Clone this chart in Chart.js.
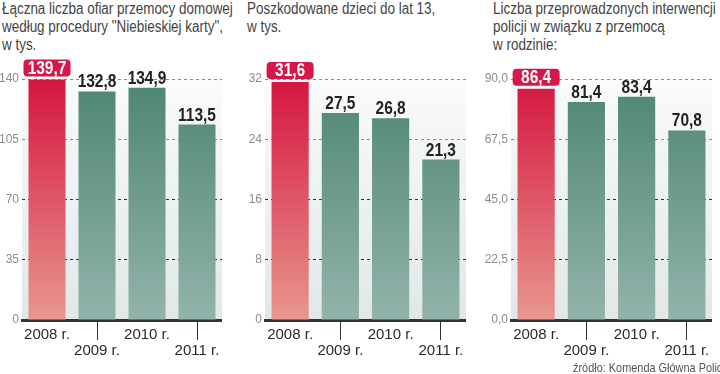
<!DOCTYPE html>
<html>
<head>
<meta charset="utf-8">
<script src="https://cdn.jsdelivr.net/npm/chart.js@4.4.1/dist/chart.umd.min.js"></script>
<style>
  body { margin: 0; width: 720px; height: 374px; overflow: hidden; background: #fff; position: relative; }
  canvas { position: absolute; top: 0; }
  .title { position: absolute; top: 0; font: 16px/18px "Liberation Sans", Arial, sans-serif; color: #444; white-space: nowrap; transform: scaleX(0.84); transform-origin: 0 0; }
  .source { position: absolute; left: 573px; top: 360px; font: 13px "Liberation Sans", Arial, sans-serif; color: #555; white-space: nowrap; transform: scaleX(0.84); transform-origin: 0 0; }
</style>
</head>
<body>
<div class="title" style="left:2px">Łączna liczba ofiar przemocy domowej<br>według procedury "Niebieskiej karty",<br>w tys.</div>
<div class="title" style="left:247px">Poszkodowane dzieci do lat 13,<br>w tys.</div>
<div class="title" style="left:493px">Liczba przeprowadzonych interwencji<br>policji w związku z przemocą<br>w rodzinie:</div>
<canvas id="c1" width="222" height="374" style="left:0px"></canvas>
<canvas id="c2" width="226" height="374" style="left:240px"></canvas>
<canvas id="c3" width="232" height="374" style="left:480px"></canvas>
<div class="source">źródło: Komenda Główna Policji</div>
<script>
const categories = ['2008 r.', '2009 r.', '2010 r.', '2011 r.'];
const victims = [139.7, 132.8, 134.9, 113.5];
const children = [31.6, 27.5, 26.8, 21.3];
const interventions = [86.4, 81.4, 83.4, 70.8];
const victimsTicks = [0, 35, 70, 105, 140];
const childrenTicks = [0, 8, 16, 24, 32];
const interventionsTicks = [0, 22.5, 45, 67.5, 90];

const sans = '"Liberation Sans", Arial, sans-serif';

function fmt(v, dec) {
  return v.toFixed(dec).replace('.', ',');
}

function barFill(ctx) {
  const area = ctx.chart.chartArea;
  if (!area) return '#5a8c7e';
  const g = ctx.chart.ctx.createLinearGradient(0, area.top, 0, area.bottom);
  if (ctx.dataIndex === 0) {
    g.addColorStop(0, '#d5153f');
    g.addColorStop(1, '#e8978f');
  } else {
    g.addColorStop(0, '#4d8574');
    g.addColorStop(1, '#93b3ab');
  }
  return g;
}

// light grey panel behind the bars
const panelBg = {
  id: 'panelBg',
  beforeDraw(chart) {
    const { ctx, chartArea: a } = chart;
    const g = ctx.createLinearGradient(0, a.top, 0, a.bottom);
    g.addColorStop(0, '#fafbfb');
    g.addColorStop(1, '#e1e7e7');
    ctx.save();
    ctx.fillStyle = g;
    ctx.fillRect(a.left, a.top, a.right - a.left, a.bottom - a.top);
    ctx.restore();
  }
};

// value labels, first one in a red badge (text squeezed to look condensed)
const valueLabels = {
  id: 'valueLabels',
  afterDatasetsDraw(chart) {
    const ctx = chart.ctx;
    const meta = chart.getDatasetMeta(0);
    const data = chart.data.datasets[0].data;
    const sx = 0.86;
    meta.data.forEach((bar, i) => {
      const txt = fmt(data[i], 1);
      ctx.save();
      ctx.font = 'bold 18px ' + sans;
      ctx.textAlign = 'center';
      if (i === 0) {
        const w = 47, h = 17;
        const bottom = bar.y - 3;
        ctx.fillStyle = '#d7174a';
        ctx.beginPath();
        ctx.roundRect(bar.x - w / 2, bottom - h, w, h, 4);
        ctx.fill();
        ctx.translate(bar.x, bottom - h / 2 + 1);
        ctx.scale(sx, 1);
        ctx.fillStyle = '#fff';
        ctx.textBaseline = 'middle';
        ctx.fillText(txt, 0, 0);
      } else {
        ctx.translate(bar.x, bar.y - 4);
        ctx.scale(sx, 1);
        ctx.fillStyle = '#222';
        ctx.textBaseline = 'alphabetic';
        ctx.fillText(txt, 0, 0);
      }
      ctx.restore();
    });
  }
};

function makeChart(id, values, ticks, dec, axisWidth) {
  const top = ticks[ticks.length - 1];
  new Chart(document.getElementById(id), {
    type: 'bar',
    data: {
      labels: categories,
      datasets: [{
        data: values,
        backgroundColor: barFill,
        barPercentage: 0.74,
        categoryPercentage: 1
      }]
    },
    options: {
      responsive: false,
      animation: false,
      layout: { padding: { top: 79, left: 0, right: 0, bottom: 0 } },
      plugins: { legend: { display: false }, tooltip: { enabled: false } },
      scales: {
        x: {
          afterFit: (s) => { s.height = 54; },
          border: { display: true, color: '#333', width: 3 },
          grid: {
            offset: false,
            drawOnChartArea: false,
            drawTicks: true,
            tickLength: 20,
            tickWidth: 1,
            tickColor: (c) => (c.index % 2 ? '#333' : 'rgba(0,0,0,0)')
          },
          ticks: {
            autoSkip: false,
            maxRotation: 0,
            padding: -13,
            color: '#2a2a2a',
            font: { family: sans, size: 15, lineHeight: 1.07 },
            callback: function (v, i) {
              const l = this.getLabelForValue(v);
              return i % 2 ? ['', l] : l;
            }
          }
        },
        y: {
          min: 0,
          max: top,
          afterFit: (s) => { s.width = axisWidth; },
          afterBuildTicks: (s) => { s.ticks = ticks.map(v => ({ value: v })); },
          border: { display: false, dash: [3, 3] },
          grid: {
            drawTicks: false,
            color: (c) => {
              const v = c.tick.value;
              if (v === 0) return 'rgba(0,0,0,0)';
              return v >= top * 0.7 ? '#8a8a8a' : '#333';
            }
          },
          ticks: {
            padding: 3,
            color: '#8c8c8c',
            font: { family: sans, size: 12 },
            callback: (v) => fmt(v, dec)
          }
        }
      }
    },
    plugins: [panelBg, valueLabels]
  });
}

makeChart('c1', victims, victimsTicks, 0, 22);
makeChart('c2', children, childrenTicks, 0, 25);
makeChart('c3', interventions, interventionsTicks, 1, 31);
</script>
</body>
</html>
